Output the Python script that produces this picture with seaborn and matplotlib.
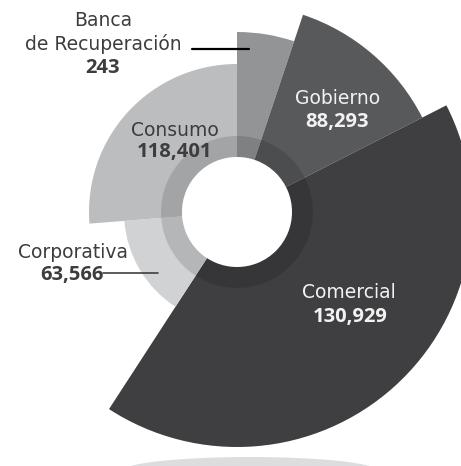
import numpy as np
import pandas as pd
import matplotlib
matplotlib.use("Agg")
import matplotlib.pyplot as plt
from matplotlib.lines import Line2D
from matplotlib.patches import Ellipse
import seaborn as sns

# segments, clockwise from 12 o'clock
segments = ["Banca\nde Recuperación", "Gobierno", "Comercial", "Corporativa", "Consumo"]
values = [243, 88293, 130929, 63566, 118401]
# angular span (deg) and outer radius (not proportional to values)
span_deg = [18.5, 44.5, 150.0, 52.5, 94.5]
outer_r = [180, 208, 235, 113, 148]
colors = ["#939496", "#58595b", "#3f3f41", "#d1d2d4", "#bcbdbf"]

W, H, DPI = 461, 466, 100
CX, CY = 237, 212          # chart centre, px from top-left
RMAX = 240
HOLE_R, RING_R = 55, 76


def fx(x):
    return x / W


def fy(y):
    return 1 - y / H


def main() -> None:
    sns.set_theme(style="white")
    plt.rcParams["font.family"] = ["DejaVu Sans"]

    df = pd.DataFrame({"segment": segments, "value": values,
                       "span": span_deg, "r": outer_r})
    df["start"] = np.radians(df["span"].cumsum() - df["span"])
    df["width"] = np.radians(df["span"])
    palette = sns.color_palette(colors)

    fig = plt.figure(figsize=(W / DPI, H / DPI), dpi=DPI)

    # shadow under the chart
    fig.patches.append(Ellipse((250 / DPI, (H - 471) / DPI), 2.56, 0.28,
                               transform=fig.dpi_scale_trans,
                               facecolor="#dcdddf", edgecolor="none", zorder=0))

    ax = fig.add_axes([fx(CX - RMAX), fy(CY + RMAX), 2 * RMAX / W, 2 * RMAX / H],
                      projection="polar")
    ax.set_theta_zero_location("N")
    ax.set_theta_direction(-1)
    ax.set_ylim(0, RMAX)
    ax.set_axis_off()
    ax.patch.set_alpha(0)

    ax.bar(df["start"], df["r"], width=df["width"], bottom=0, align="edge",
           color=palette, edgecolor="none", linewidth=0)
    # darker ring and white hole
    ax.bar(0, RING_R - HOLE_R, width=2 * np.pi, bottom=HOLE_R,
           color="black", alpha=0.13, edgecolor="none")
    ax.bar(0, HOLE_R, width=2 * np.pi, bottom=0, color="white", edgecolor="none")

    # leader lines
    fig.lines.append(Line2D([fx(192), fx(249)], [fy(49), fy(49)],
                            transform=fig.transFigure, color="black", lw=1.6))
    fig.lines.append(Line2D([fx(103), fx(158)], [fy(273), fy(273)],
                            transform=fig.transFigure, color="#3f3f41", lw=1.2))

    name_fs, val_fs = 13.5, 14.5
    val_font = ["Open Sans", "DejaVu Sans"]
    dark, light = "#3d3d3f", "#f2f2f2"
    # (name position, value position, colour) for each segment
    label_pos = [
        ((103, 32), (103, 68), dark),
        ((338, 99), (337, 122), light),
        ((349, 293), (350, 317), light),
        ((73, 253), (72, 275), dark),
        ((175, 131), (175, 152), dark),
    ]
    for seg, val, (npos, vpos, c) in zip(segments, values, label_pos):
        fig.text(fx(npos[0]), fy(npos[1]), seg, ha="center", va="center",
                 fontsize=name_fs, color=c, linespacing=1.25)
        fig.text(fx(vpos[0]), fy(vpos[1]), f"{val:,}", ha="center", va="center",
                 fontsize=val_fs, fontweight="bold", color=c, family=val_font)

    fig.savefig("out.png", dpi=DPI)
    plt.close(fig)


if __name__ == "__main__":
    main()
